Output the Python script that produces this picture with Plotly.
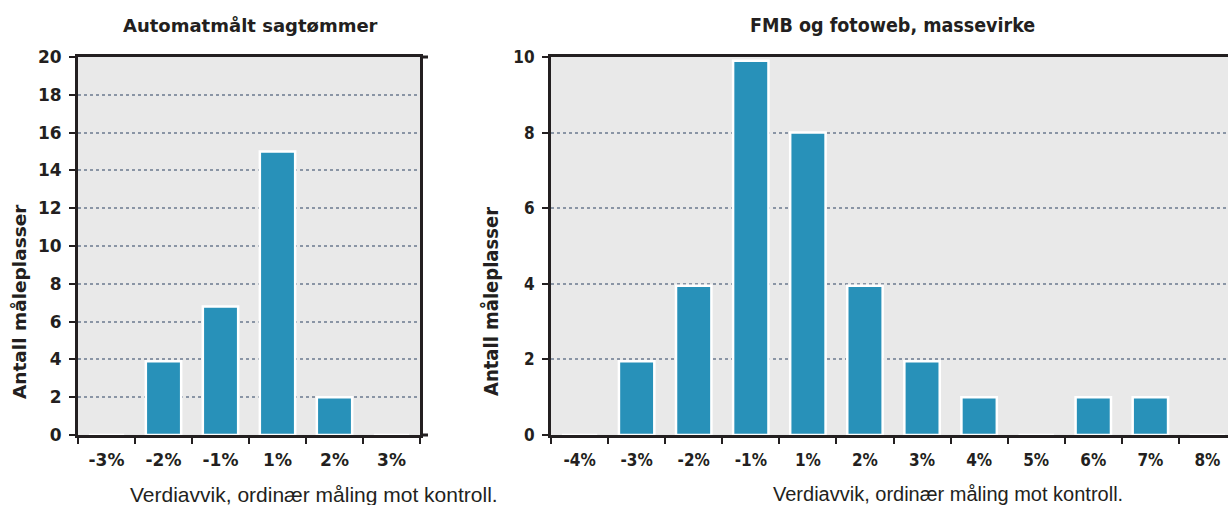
import plotly.graph_objects as go

W, H = 1228, 505

# ---- data ----
left_categories = ["-3%", "-2%", "-1%", "1%", "2%", "3%"]
left_values = [0, 3.9, 6.8, 15, 2, 0]

right_categories = ["-4%", "-3%", "-2%", "-1%", "1%", "2%", "3%", "4%", "5%", "6%", "7%", "8%"]
right_values = [0, 1.95, 3.95, 9.9, 8, 3.95, 1.95, 1, 0, 1, 1, 0]

left_title = "Automatmålt sagtømmer"
right_title = "FMB og fotoweb, massevirke"
y_title = "Antall måleplasser"
x_title = "Verdiavvik, ordinær måling mot kontroll."

# ---- style ----
BAR = "#2891b9"
DARK = "#231f20"
GRID = "#8a95a5"
BG = "#e9e9e9"
F_WIDE = "DejaVu Sans"
F_COND = "DejaVu Sans Condensed"
F_TEXT = "Liberation Sans"


def px(x):
    return x / W


def py(y):
    return 1 - y / H


fig = go.Figure()
fig.add_trace(go.Bar(x=left_categories, y=left_values, xaxis="x", yaxis="y",
                     marker=dict(color=BAR, line=dict(color="white", width=2.5)),
                     width=0.62, showlegend=False))
fig.add_trace(go.Bar(x=right_categories, y=right_values, xaxis="x2", yaxis="y2",
                     marker=dict(color=BAR, line=dict(color="white", width=2.5)),
                     width=0.62, showlegend=False))

common_x = dict(type="category", tickson="boundaries", ticks="outside", ticklen=6,
                tickwidth=2, tickcolor=DARK, showline=True, linewidth=3, linecolor=DARK,
                showgrid=False, zeroline=False, fixedrange=True, ticklabelstandoff=8,
                automargin=False)
common_y = dict(ticks="outside", ticklen=6, tickwidth=2, tickcolor=DARK,
                showline=True, linewidth=3, linecolor=DARK, showgrid=True,
                gridcolor=GRID, griddash="dot", gridwidth=1.5, zeroline=False,
                fixedrange=True, ticklabelstandoff=4, automargin=False)

fig.update_layout(
    template="none",
    width=W, height=H, autosize=False,
    margin=dict(l=0, r=0, t=0, b=0, pad=0),
    paper_bgcolor="white",
    plot_bgcolor=BG,
    xaxis=dict(domain=[px(78), px(420)], anchor="y", range=[-0.5, 5.5],
               categoryorder="array", categoryarray=left_categories, mirror=True,
               tickfont=dict(family=F_WIDE, size=17, color=DARK, weight="bold"),
               **common_x),
    yaxis=dict(domain=[py(435), py(57)], anchor="x", range=[0, 20], dtick=2, mirror=True,
               tickfont=dict(family=F_WIDE, size=17, color=DARK, weight="bold"),
               **common_y),
    xaxis2=dict(domain=[px(551), 1.0], anchor="y2", range=[-0.5, 11.36],
                categoryorder="array", categoryarray=right_categories, mirror=True,
                tickfont=dict(family=F_COND, size=17, color=DARK, weight="bold"),
                **common_x),
    yaxis2=dict(domain=[py(435), py(57)], anchor="x2", range=[0, 10], dtick=2, mirror=False,
                tickfont=dict(family=F_COND, size=17, color=DARK, weight="bold"),
                **common_y),
)

# small frame stubs on the left panel's right corners
for yy in (57, 435):
    fig.add_shape(type="line", xref="paper", yref="paper",
                  x0=px(420), x1=px(428), y0=py(yy), y1=py(yy),
                  line=dict(color=DARK, width=3))

annos = [
    dict(text=left_title, x=px(250), y=py(25), font=dict(family=F_WIDE, size=18, color=DARK, weight="bold")),
    dict(text=right_title, x=px(892), y=py(25), font=dict(family=F_COND, size=19.5, color=DARK, weight="bold")),
    dict(text=y_title, x=px(19), y=py(302), textangle=-90, font=dict(family=F_WIDE, size=18.5, color=DARK, weight="bold")),
    dict(text=y_title, x=px(491), y=py(302), textangle=-90, font=dict(family=F_COND, size=20, color=DARK, weight="bold")),
    dict(text=x_title, x=px(314), y=py(494), font=dict(family=F_TEXT, size=21, color=DARK)),
    dict(text=x_title, x=px(948), y=py(494), font=dict(family=F_TEXT, size=20, color=DARK)),
]
for a in annos:
    fig.add_annotation(xref="paper", yref="paper", showarrow=False,
                       xanchor="center", yanchor="middle", **a)

fig.write_html(
    "out.html",
    config={"displayModeBar": False, "responsive": False},
    post_script="document.body.style.margin='0px';document.documentElement.style.overflow='hidden';document.body.style.overflow='hidden';",
)
